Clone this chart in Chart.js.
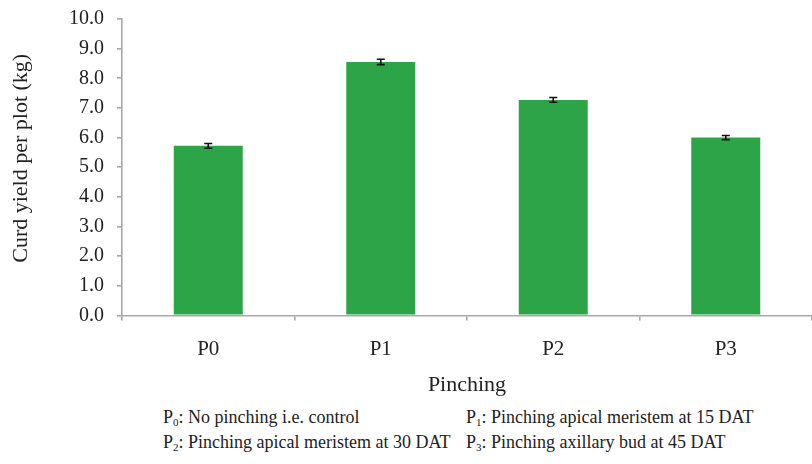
<!DOCTYPE html>
<html>
<head>
<meta charset="utf-8">
<script src="https://cdn.jsdelivr.net/npm/chart.js@4/dist/chart.umd.min.js"></script>
<style>
  html, body { margin: 0; padding: 0; background: #fff; }
  #wrap { position: relative; width: 812px; height: 464px; overflow: hidden; }
  #chart { position: absolute; left: 0; top: -6px; }
  .note { position: absolute; font-family: "Liberation Serif", "Times New Roman", serif;
          font-size: 18px; color: #222; white-space: nowrap; line-height: 1; }
  .note sub { font-size: 11px; vertical-align: -3px; }
</style>
</head>
<body>
<div id="wrap">
  <canvas id="chart" width="812" height="406"></canvas>
  <div class="note" style="left:163px; top:408px;">P<sub>0</sub>: No pinching i.e. control</div>
  <div class="note" style="left:466px; top:408px;">P<sub>1</sub>: Pinching apical meristem at 15 DAT</div>
  <div class="note" style="left:163px; top:433px;">P<sub>2</sub>: Pinching apical meristem at 30 DAT</div>
  <div class="note" style="left:466px; top:433px;">P<sub>3</sub>: Pinching axillary bud at 45 DAT</div>
</div>
<script>
// Pinching treatments and mean curd yield per plot (kg) with standard errors
const categories = ['P0', 'P1', 'P2', 'P3'];
const yieldValues = [5.72, 8.55, 7.27, 6.00];
const yieldErrors = [0.08, 0.09, 0.08, 0.07];
const yTicks = [0, 1, 2, 3, 4, 5, 6, 7, 8, 9, 10];
const yTitle = 'Curd yield per plot (kg)';

const serif = '"Liberation Serif", "Times New Roman", serif';
const axisGrey = '#a8a8a8';
const textColor = '#222';

// Draws the whisker (vertical line + caps) over each bar
const errorBars = {
  id: 'errorBars',
  afterDatasetsDraw(chart) {
    const { ctx, scales: { y } } = chart;
    const meta = chart.getDatasetMeta(0);
    ctx.save();
    ctx.strokeStyle = '#111';
    ctx.lineWidth = 1.6;
    meta.data.forEach((bar, i) => {
      const cx = bar.x;
      const top = y.getPixelForValue(yieldValues[i] + yieldErrors[i]);
      const bot = y.getPixelForValue(yieldValues[i] - yieldErrors[i]);
      const half = 4;
      ctx.beginPath();
      ctx.moveTo(cx, top); ctx.lineTo(cx, bot);
      ctx.moveTo(cx - half, top); ctx.lineTo(cx + half, top);
      ctx.moveTo(cx - half, bot); ctx.lineTo(cx + half, bot);
      ctx.stroke();
    });
    ctx.restore();
  }
};

// Vertical axis title, set a little above the middle of the value axis
const sideTitle = {
  id: 'sideTitle',
  afterDraw(chart) {
    const { ctx, scales: { y } } = chart;
    const cy = y.getPixelForValue(5.3);
    ctx.save();
    ctx.translate(21, cy);
    ctx.rotate(-Math.PI / 2);
    ctx.font = '22px ' + serif;
    ctx.fillStyle = textColor;
    ctx.textAlign = 'center';
    ctx.textBaseline = 'middle';
    ctx.fillText(yTitle, 0, 0);
    ctx.restore();
  }
};

new Chart(document.getElementById('chart'), {
  type: 'bar',
  data: {
    labels: categories,
    datasets: [{
      data: yieldValues,
      backgroundColor: '#2ea448',
      borderWidth: 0,
      categoryPercentage: 1.0,
      barPercentage: 0.4
    }]
  },
  options: {
    responsive: false,
    animation: false,
    layout: { padding: { top: 0, right: -5, left: 8, bottom: 2 } },
    plugins: { legend: { display: false }, tooltip: { enabled: false } },
    scales: {
      x: {
        offset: true,
        grid: { display: true, offset: true, drawOnChartArea: false, tickLength: 5, color: axisGrey, lineWidth: 1.6 },
        border: { color: axisGrey, width: 1.6 },
        ticks: { color: textColor, font: { family: serif, size: 21 }, padding: 16 },
        title: { display: true, text: 'Pinching', color: textColor, font: { family: serif, size: 22 }, padding: { top: -6, bottom: 0 } }
      },
      y: {
        min: 0, max: 10,
        afterBuildTicks(axis) { axis.ticks = yTicks.map(v => ({ value: v })); },
        grid: { display: true, drawOnChartArea: false, tickLength: 5, color: axisGrey, lineWidth: 1.6 },
        border: { color: axisGrey, width: 1.6 },
        ticks: { color: textColor, font: { family: serif, size: 20 }, padding: 13, callback: v => Number(v).toFixed(1) },
        // keeps room for the side title, which the sideTitle plugin paints
        title: { display: true, text: yTitle, color: 'rgba(0,0,0,0)', font: { family: serif, size: 20 }, padding: { top: 0, bottom: 24 } }
      }
    }
  },
  plugins: [errorBars, sideTitle]
});
</script>
</body>
</html>
